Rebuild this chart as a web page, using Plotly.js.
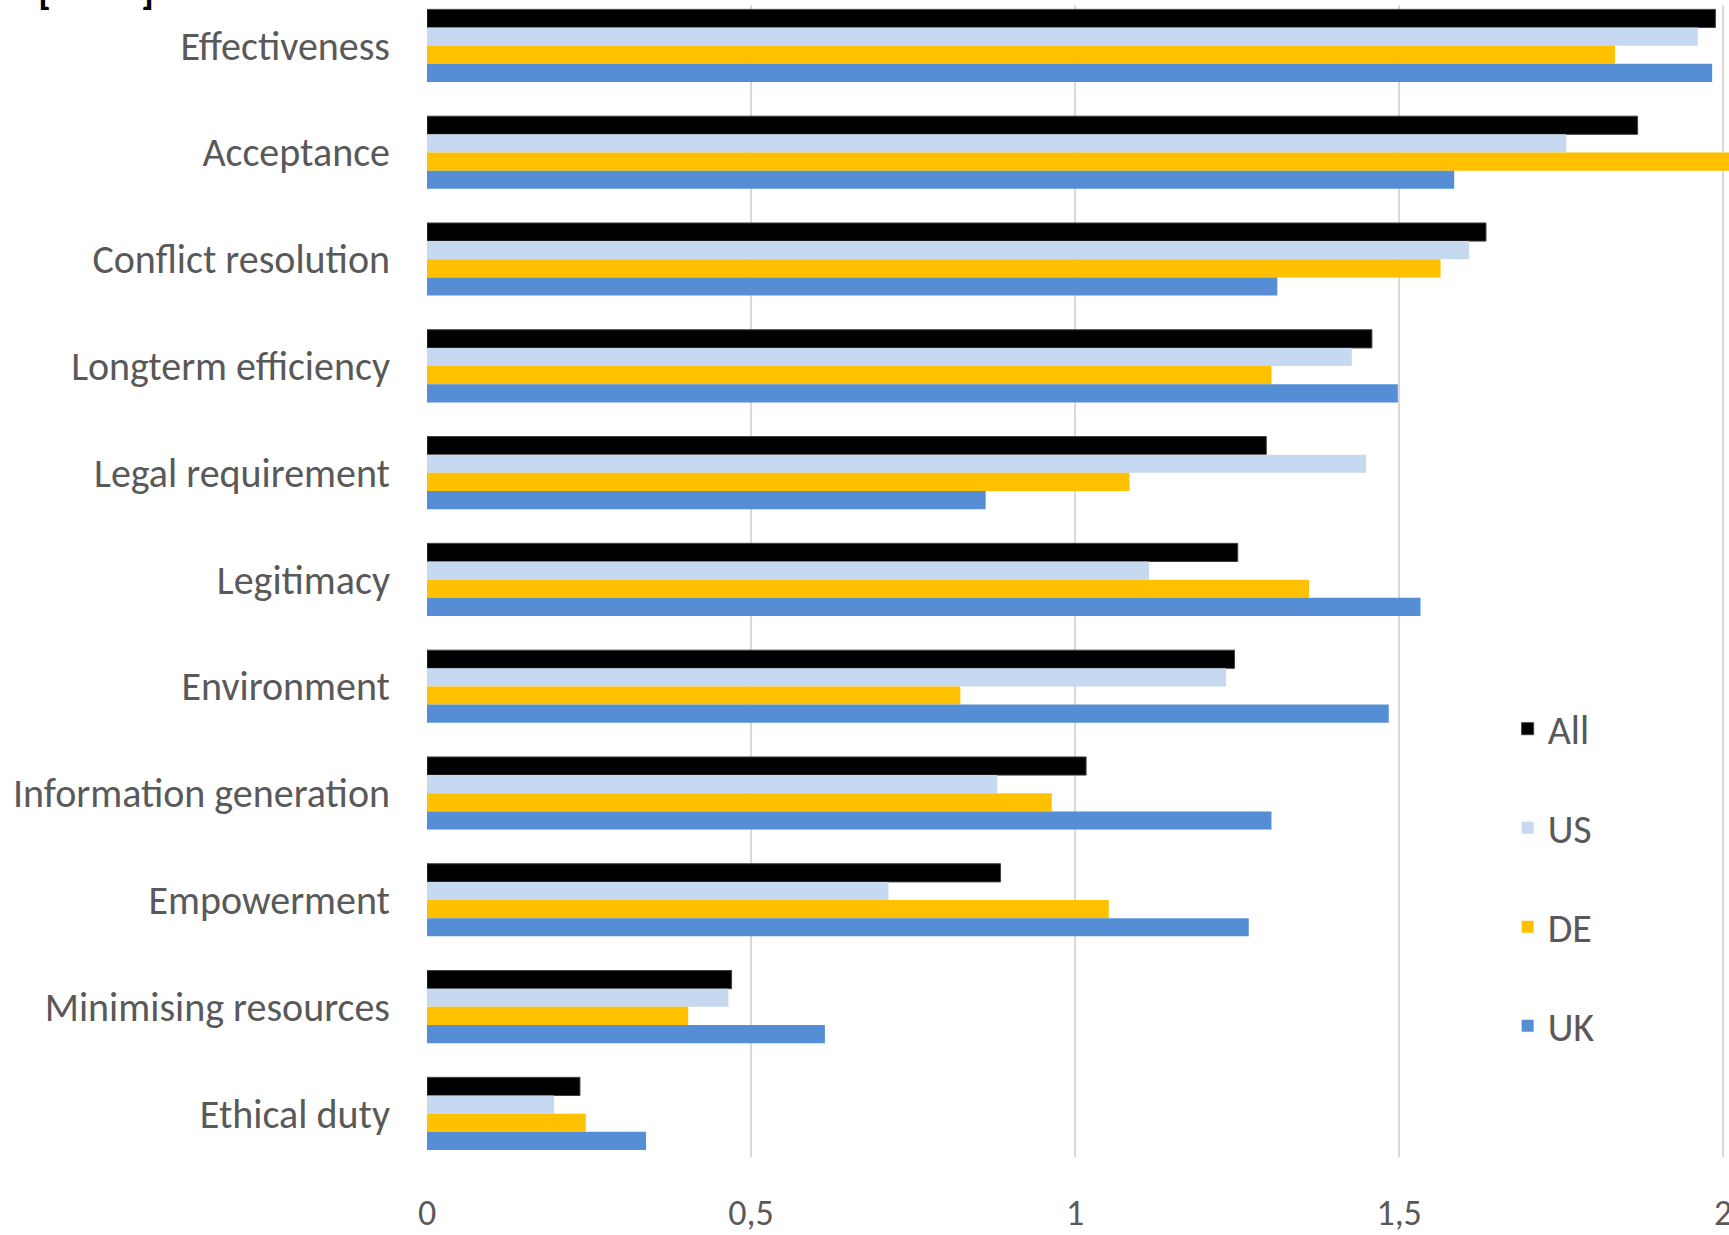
<!DOCTYPE html>
<html>
<head>
<meta charset="utf-8">
<script src="https://cdn.plot.ly/plotly-3.0.1.min.js"></script>
<style>
  html, body { margin: 0; padding: 0; background: #ffffff; }
  #chart { width: 1729px; height: 1235px; }
</style>
</head>
<body>
<div id="chart"></div>
<script>
// Motivations, top to bottom
const categories = [
  "Effectiveness",
  "Acceptance",
  "Conflict resolution",
  "Longterm efficiency",
  "Legal requirement",
  "Legitimacy",
  "Environment",
  "Information generation",
  "Empowerment",
  "Minimising resources",
  "Ethical duty"
];

// Mean scores per group
const allValues = [1.988, 1.868, 1.634, 1.458, 1.295, 1.251, 1.246, 1.017, 0.885, 0.470, 0.236];
const usValues  = [1.961, 1.758, 1.608, 1.427, 1.449, 1.114, 1.233, 0.880, 0.712, 0.465, 0.196];
const deValues  = [1.833, 2.050, 1.564, 1.303, 1.084, 1.361, 0.823, 0.964, 1.052, 0.403, 0.245];
const ukValues  = [1.983, 1.585, 1.312, 1.498, 0.862, 1.533, 1.484, 1.303, 1.268, 0.614, 0.338];

const xTickValues = [0, 0.5, 1, 1.5, 2];
const xTickLabels = ["0", "0,5", "1", "1,5", "2"];

const seriesNames  = ["All", "US", "DE", "UK"];
const seriesValues = [allValues, usValues, deValues, ukValues];
const seriesColors = ["#000000", "#C6D9F1", "#FFC000", "#558ED5"];

const FONT = "Carlito, 'Open Sans', 'Noto Sans', sans-serif";
const TEXT_GREY = "#595959";

const traces = seriesNames.map((name, i) => ({
  type: "bar",
  orientation: "h",
  name: name,
  legendgroup: name,
  y: categories,
  x: seriesValues[i],
  marker: {
    color: seriesColors[i],
    line: { width: i === 0 ? 1 : 0, color: "#404040" }
  },
  hoverinfo: "x+y+name"
}));

const layout = {
  width: 1729,
  height: 1235,
  margin: { l: 427, r: 0, t: 5, b: 78, pad: 0 },
  paper_bgcolor: "#ffffff",
  plot_bgcolor: "#ffffff",
  separators: ", ",
  barmode: "group",
  bargap: 0.32,
  bargroupgap: 0,
  font: { family: FONT, color: TEXT_GREY, size: 40 },
  xaxis: {
    range: [0, 2.009],
    tickvals: xTickValues,
    ticktext: xTickLabels,
    showgrid: true,
    gridcolor: "#D9D9D9",
    gridwidth: 2,
    zeroline: false,
    showline: false,
    ticks: "",
    ticklabelstandoff: 31,
    ticklabeloverflow: "allow",
    tickfont: { family: FONT, size: 36, color: TEXT_GREY }
  },
  yaxis: {
    type: "category",
    range: [10.406, -0.381],
    showgrid: false,
    zeroline: false,
    showline: false,
    ticks: "",
    ticklabelstandoff: 36,
    tickfont: { family: FONT, size: 40, color: TEXT_GREY }
  },
  legend: {
    x: 0.83,
    xanchor: "left",
    y: 0.40,
    yanchor: "top",
    orientation: "v",
    traceorder: "grouped",
    tracegroupgap: 44,
    bgcolor: "rgba(0,0,0,0)",
    font: { family: FONT, size: 40, color: TEXT_GREY }
  },
  annotations: [
    {
      text: "<b>[</b>", xref: "paper", yref: "paper",
      x: -0.2934, y: 1.0, xanchor: "center", yanchor: "bottom",
      yshift: -12, showarrow: false,
      font: { family: FONT, size: 40, color: "#000000" }
    },
    {
      text: "<b>]</b>", xref: "paper", yref: "paper",
      x: -0.2147, y: 1.0, xanchor: "center", yanchor: "bottom",
      yshift: -12, showarrow: false,
      font: { family: FONT, size: 40, color: "#000000" }
    }
  ]
};

Plotly.newPlot("chart", traces, layout, { displayModeBar: false, responsive: false });
</script>
</body>
</html>
